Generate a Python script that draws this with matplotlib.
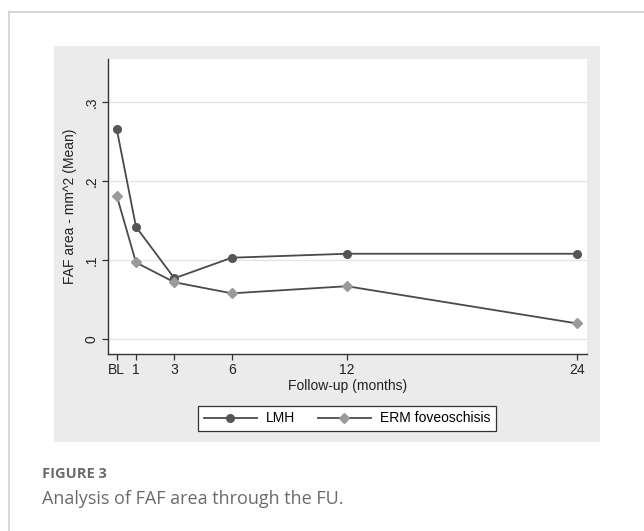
import matplotlib
matplotlib.use("Agg")
import matplotlib.pyplot as plt
from matplotlib.patches import Rectangle
from matplotlib.lines import Line2D

# follow-up months (BL = 0)
months = [0, 1, 3, 6, 12, 24]
month_labels = ["BL", "1", "3", "6", "12", "24"]

# mean FAF area, mm^2
lmh = [0.265, 0.142, 0.077, 0.103, 0.108, 0.108]
erm = [0.181, 0.097, 0.072, 0.058, 0.067, 0.020]

y_ticks = [0, 0.1, 0.2, 0.3]
y_tick_labels = ["0", ".1", ".2", ".3"]

W, H = 644, 531
fig = plt.figure(figsize=(W / 100, H / 100), dpi=100)
fig.patch.set_facecolor("white")

def fx(px):
    return px / W

def fy(py):
    return 1 - py / H

# outer frame of the figure box
fig.add_artist(Line2D([fx(9), 1.0], [fy(12), fy(12)], color="#cfcfcf", lw=1.2))
fig.add_artist(Line2D([fx(9), fx(9)], [fy(12), 0.0], color="#cfcfcf", lw=1.2))

# stata-like gray panel
fig.add_artist(Rectangle((fx(54), fy(442)), fx(599.7) - fx(54), fy(45.7) - fy(442),
                         transform=fig.transFigure, facecolor="#ebebeb", edgecolor="none", zorder=0))

ax = fig.add_axes([fx(108), fy(353.5), fx(586.5) - fx(108), fy(59) - fy(353.5)])
ax.set_facecolor("white")

chart_font = "Liberation Sans"
fs = 10

ax.plot(months, lmh, color="#4a4a4a", lw=1.3, marker="o", markersize=5.5,
        markerfacecolor="#555555", markeredgecolor="#555555", label="LMH", zorder=3)
ax.plot(months, erm, color="#4a4a4a", lw=1.3, marker="D", markersize=5.5,
        markerfacecolor="#9a9a9a", markeredgecolor="#9a9a9a", label="ERM foveoschisis", zorder=3)

ax.set_xlim(-0.46, 24.5)
ax.set_ylim(-0.018, 0.354)

ax.set_xticks(months)
ax.set_xticklabels(month_labels, fontsize=fs, family=chart_font, color="#222222")
ax.set_yticks(y_ticks)
ax.set_yticklabels(y_tick_labels, fontsize=fs, family=chart_font, color="#222222",
                   rotation=90, va="center")
ax.tick_params(axis="both", direction="out", length=4, width=0.9, color="#333333", pad=3)

for yv in y_ticks:
    ax.axhline(yv, color="#e4e4e4", lw=0.9, zorder=1)

for s in ["top", "right"]:
    ax.spines[s].set_visible(False)
for s in ["left", "bottom"]:
    ax.spines[s].set_color("#333333")
    ax.spines[s].set_linewidth(1.0)

ax.set_xlabel("Follow-up (months)", fontsize=fs, family=chart_font, color="#222222", labelpad=1)
ax.set_ylabel("FAF area - mm^2 (Mean)", fontsize=fs, family=chart_font, color="#222222", labelpad=5)

leg = fig.legend(loc="upper center", bbox_to_anchor=(fx(347.3), fy(399)), ncol=2,
                 prop={"family": chart_font, "size": fs}, frameon=True, fancybox=False,
                 handlelength=3.8, handletextpad=0.7, columnspacing=1.6, borderpad=0.4)
leg.get_frame().set_edgecolor("#333333")
leg.get_frame().set_linewidth(0.9)
leg.get_frame().set_facecolor("white")
leg.get_frame().set_alpha(1)

# caption
fig.text(fx(41.5), fy(478), "FIGURE 3", fontsize=10.5, fontweight="bold", family="Open Sans",
         color="#6b6b6b", va="baseline")
fig.text(fx(41.5), fy(504), "Analysis of FAF area through the FU.", fontsize=13,
         family="Open Sans", color="#6b6b6b", va="baseline")

fig.savefig("out.png", dpi=100, facecolor="white")
